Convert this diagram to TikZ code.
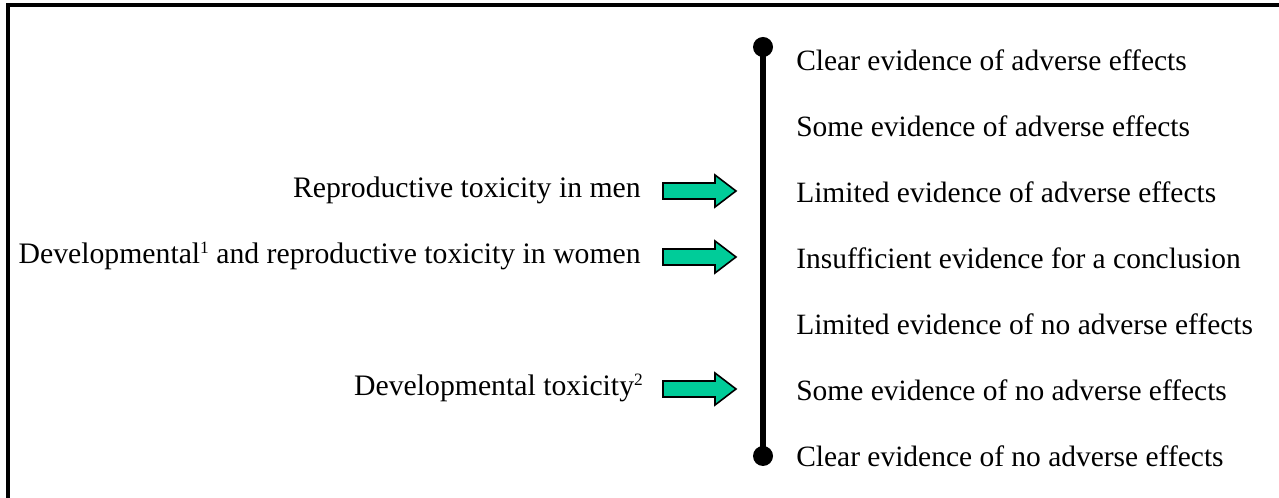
\documentclass[tikz,border=0pt]{standalone}
\usepackage{fontspec}
\setmainfont{Liberation Serif}
\definecolor{arrgreen}{HTML}{00CC99}
\newcommand{\supnum}[1]{\raisebox{8pt}{\fontsize{13}{13}\selectfont #1}}
\begin{document}
\begin{tikzpicture}[x=0.75pt,y=-0.75pt,
  rtext/.style={anchor=west,inner sep=0pt,font=\fontsize{22.1}{26}\selectfont},
  ltext/.style={anchor=east,inner sep=0pt,font=\fontsize{22.3}{26}\selectfont},
  garrow/.style={draw=black,fill=arrgreen,line width=1.2pt,line join=miter}]
\useasboundingbox (0,0) rectangle (1279,498);
\draw[line width=2.4pt] (8,498) -- (8,5) -- (1279,5);
% scale
\coordinate (top) at (763,47);
\coordinate (bot) at (763,456);
\draw[line width=4.5pt] (top) -- (bot);
\fill (top) circle (7.5pt);
\fill (bot) circle (7.5pt);
% right labels
\node[rtext] (r1) at (796,60) {Clear evidence of adverse effects};
\node[rtext] (r2) at (796,126) {Some evidence of adverse effects};
\node[rtext] (r3) at (796,192) {Limited evidence of adverse effects};
\node[rtext] (r4) at (796,258) {Insufficient evidence for a conclusion};
\node[rtext] (r5) at (796,324) {Limited evidence of no adverse effects};
\node[rtext] (r6) at (796,390) {Some evidence of no adverse effects};
\node[rtext] (r7) at (796,456) {Clear evidence of no adverse effects};
% left labels
\node[ltext,anchor=base east] (l1) at (641,198) {Reproductive toxicity in men};
\node[ltext,anchor=base east] (l2) at (641,264) {Developmental\supnum{1} and reproductive toxicity in women};
\node[ltext,anchor=base east] (l3) at (643,396) {Developmental toxicity\supnum{2}};
% arrows
\foreach \n/\y in {a1/191,a2/257,a3/389}{
  \coordinate (\n) at (663,\y);
  \draw[garrow] (\n) ++(0,-8) -- ++(52,0) -- ++(0,-8) -- ++(21,16) -- ++(-21,16) -- ++(0,-8) -- ++(-52,0) -- cycle;
}
\end{tikzpicture}
\end{document}
